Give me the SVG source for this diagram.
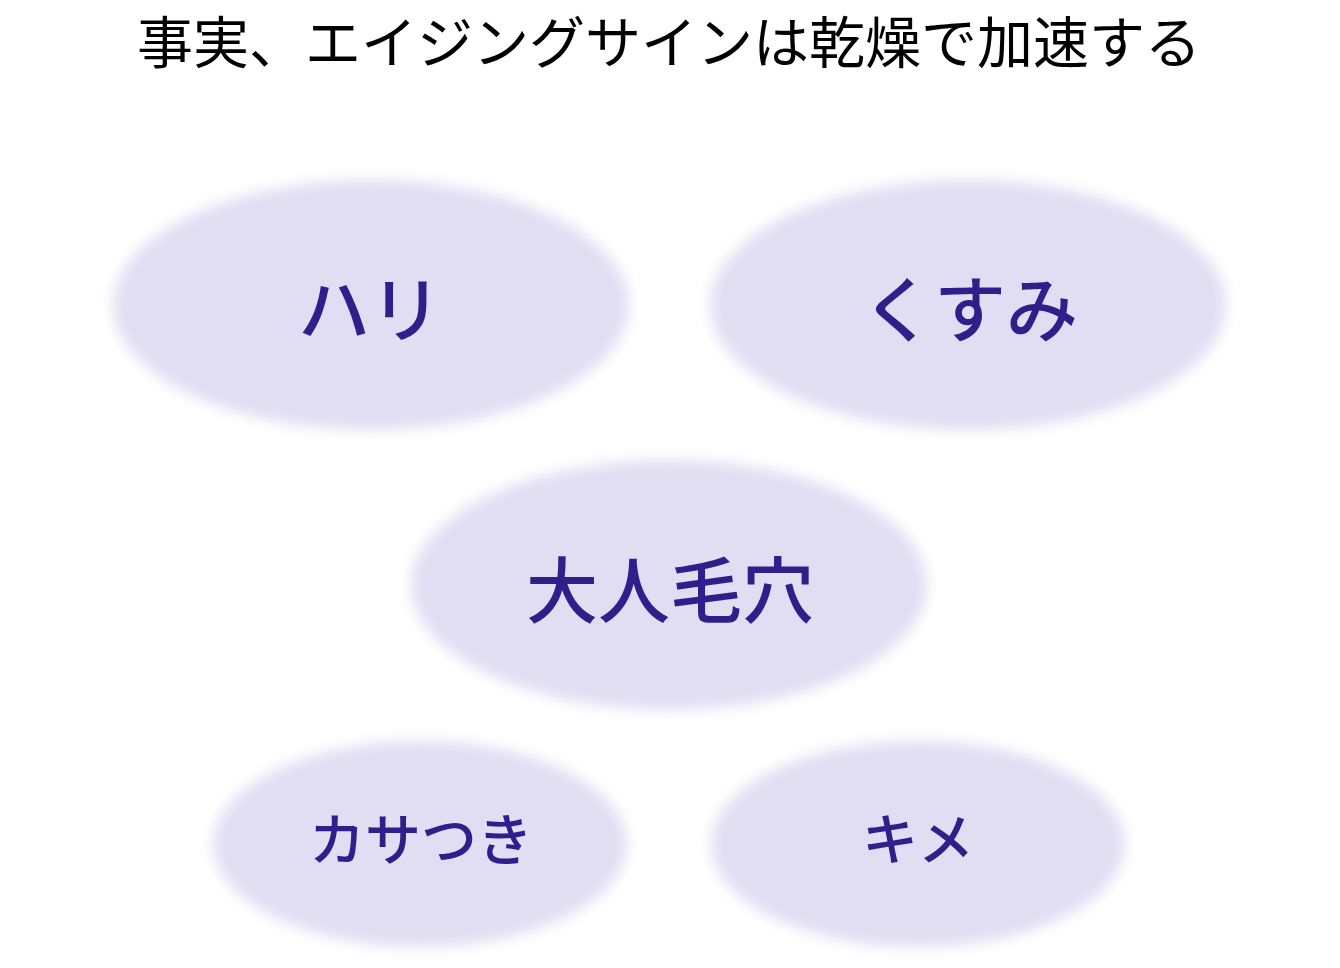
<svg xmlns="http://www.w3.org/2000/svg" width="1340" height="968" viewBox="0 0 1340 968">
<defs>
<filter id="soft" x="-10%" y="-10%" width="120%" height="120%">
<feGaussianBlur stdDeviation="7"/>
</filter>
</defs>
<style>
.blob{fill:#E1DEF3;filter:url(#soft);}
.lbl{font-family:"Noto Sans CJK JP","Noto Sans",sans-serif;fill:#2F1F8B;text-anchor:middle;font-weight:500;}
.title{font-family:"Noto Sans CJK JP","Noto Sans",sans-serif;fill:#000000;text-anchor:middle;font-size:56px;}
</style>
<rect width="1340" height="968" fill="#FFFFFF"/>
<text class="title" x="669" y="63">事実、エイジングサインは乾燥で加速する</text>
<g id="connectors"></g>
<g id="node-hari">
<ellipse class="blob" cx="371" cy="305" rx="258" ry="125"/>
<text class="lbl" x="370" y="336" font-size="72">ハリ</text>
</g>
<g id="node-kusumi">
<ellipse class="blob" cx="968" cy="305" rx="258" ry="125"/>
<text class="lbl" x="970" y="336" font-size="72">くすみ</text>
</g>
<g id="node-keana">
<ellipse class="blob" cx="669" cy="585" rx="258" ry="125"/>
<text class="lbl" x="670" y="617" font-size="72">大人毛穴</text>
</g>
<g id="node-kasatsuki">
<ellipse class="blob" cx="420" cy="844" rx="207" ry="103"/>
<text class="lbl" x="421" y="860" font-size="56">カサつき</text>
</g>
<g id="node-kime">
<ellipse class="blob" cx="918" cy="844" rx="207" ry="103"/>
<text class="lbl" x="918" y="860" font-size="56">キメ</text>
</g>
</svg>
